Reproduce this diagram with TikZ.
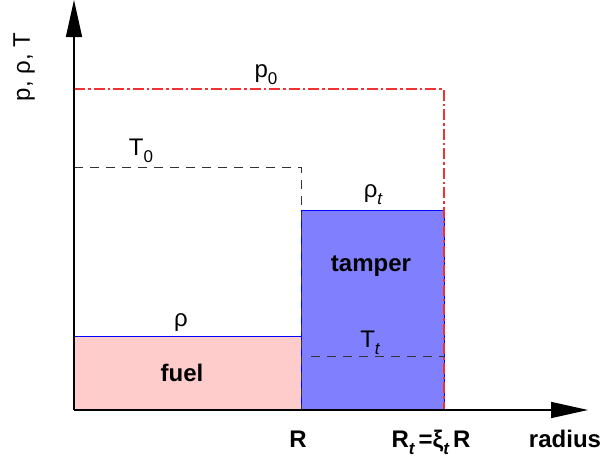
\documentclass[tikz,border=0pt]{standalone}
\usepackage{fontspec}
\setmainfont{Liberation Sans}
\usetikzlibrary{arrows.meta}
\definecolor{fuelc}{RGB}{255,204,204}
\definecolor{tampc}{RGB}{128,128,255}
\definecolor{pred}{RGB}{240,50,50}
\newcommand{\mysub}[1]{\raisebox{-0.3em}{\fontsize{17}{17}\selectfont #1}}
\begin{document}
\begin{tikzpicture}[x=1pt,y=-1pt,
  axis/.style={line width=1.6pt,-{Triangle[length=37pt,width=16pt]}},
  lbl/.style={font=\fontsize{24}{26}\selectfont,inner sep=0pt,anchor=base},
  blbl/.style={font=\fontsize{24}{26}\selectfont\bfseries,inner sep=0pt,anchor=base},
  region/.style={draw=blue,line width=0.8pt},
  tline/.style={dash pattern=on 9pt off 7pt,line width=0.9pt,black!80},
  pline/.style={draw=pred,line width=1.1pt,dash pattern=on 11pt off 3pt on 2.5pt off 3pt}]
\useasboundingbox (0,0) rectangle (603,466);
% regions
\fill[fuelc] (74,336) rectangle (301,410);
\draw[blue,line width=0.8pt] (74,336) -- (301,336);
\filldraw[region,fill=tampc] (301,410) -- (301,210) -- (444,210) -- (444,410);
% p0
\coordinate (p0a) at (74,89);
\coordinate (p0b) at (444,89);
\coordinate (p0c) at (444,410);
\draw[pline] (p0a) -- (p0b) -- (p0c);
% T0
\coordinate (t0a) at (74,167);
\coordinate (t0b) at (301,167);
\coordinate (t0c) at (301,410);
\draw[tline] (t0a) -- (t0b) -- (t0c);
% Tt
\coordinate (tta) at (311,356);
\coordinate (ttb) at (444,356);
\draw[tline] (tta) -- (ttb);
% axes
\coordinate (o) at (74,410);
\coordinate (ytop) at (74,0);
\coordinate (xend) at (588,410);
\draw[axis] (o) -- (ytop);
\draw[axis] (o) -- (xend);
% labels
\node[lbl] (lp0) at (266,77) {p\mysub{0}};
\node[lbl] (lT0) at (141,155) {T\mysub{0}};
\node[lbl] (lrt) at (373,197) {ρ\mysub{\itshape t}};
\node[blbl] (ltam) at (371,271) {tamper};
\node[lbl] (lrho) at (181,326) {ρ};
\node[blbl] (lfuel) at (182,381) {fuel};
\node[lbl] (lTt) at (370,347) {T\mysub{\itshape t}};
\node[blbl] (lR) at (298,447) {R};
\node[blbl] (lRt) at (431,447) {R\mysub{\itshape t}\,=ξ\mysub{\itshape t}\,R};
\node[blbl] (lrad) at (565,447) {radius};
\node[lbl,rotate=90] (ly) at (30,67) {p, ρ, T};
\end{tikzpicture}
\end{document}
